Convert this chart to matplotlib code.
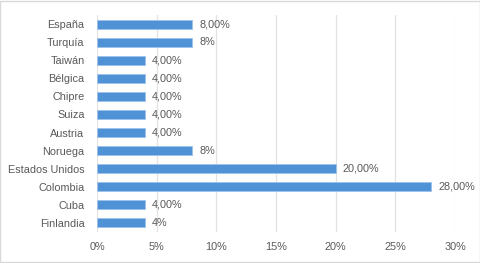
import matplotlib.pyplot as plt

paises = ['España', 'Turquía', 'Taiwán', 'Bélgica', 'Chipre', 'Suiza', 'Austria',
          'Noruega', 'Estados Unidos', 'Colombia', 'Cuba', 'Finlandia']
valores = [8, 8, 4, 4, 4, 4, 4, 8, 20, 28, 4, 4]
etiquetas = ['8,00%', '8%', '4,00%', '4,00%', '4,00%', '4,00%', '4,00%',
             '8%', '20,00%', '28,00%', '4,00%', '4%']
ticks = [0, 5, 10, 15, 20, 25, 30]

plt.rcParams['font.family'] = ['Liberation Sans', 'DejaVu Sans']
gris = '#595959'

fig = plt.figure(figsize=(4.81, 2.63), dpi=100)
fig.patches.append(plt.Rectangle((0.001, 0.002), 0.997, 0.995, transform=fig.transFigure,
                                 fill=False, edgecolor='#d9d9d9', linewidth=1))
ax = fig.add_axes([0.2017, 0.118, 0.7443, 0.825])

y = list(range(len(paises)))
ax.barh(y, valores, height=0.5, color='#4f93d6', edgecolor='#9cc3ea', linewidth=0.6, zorder=3)
for yi, v, t in zip(y, valores, etiquetas):
    ax.text(v + 0.6, yi, t, va='center', ha='left', fontsize=7.8, color=gris)

ax.set_ylim(len(paises) - 0.5, -0.5)
ax.set_xlim(0, 30)
ax.set_yticks(y)
ax.set_yticklabels(paises, fontsize=7.8, color=gris)
ax.set_xticks(ticks)
ax.set_xticklabels([f'{t}%' for t in ticks], fontsize=7.8, color=gris)
ax.tick_params(length=0, pad=7)
ax.tick_params(axis='y', pad=9)
ax.grid(axis='x', color='#e3e3e3', linewidth=0.9, zorder=0)
for s in ax.spines.values():
    s.set_visible(False)

fig.savefig('out.png', dpi=100)
